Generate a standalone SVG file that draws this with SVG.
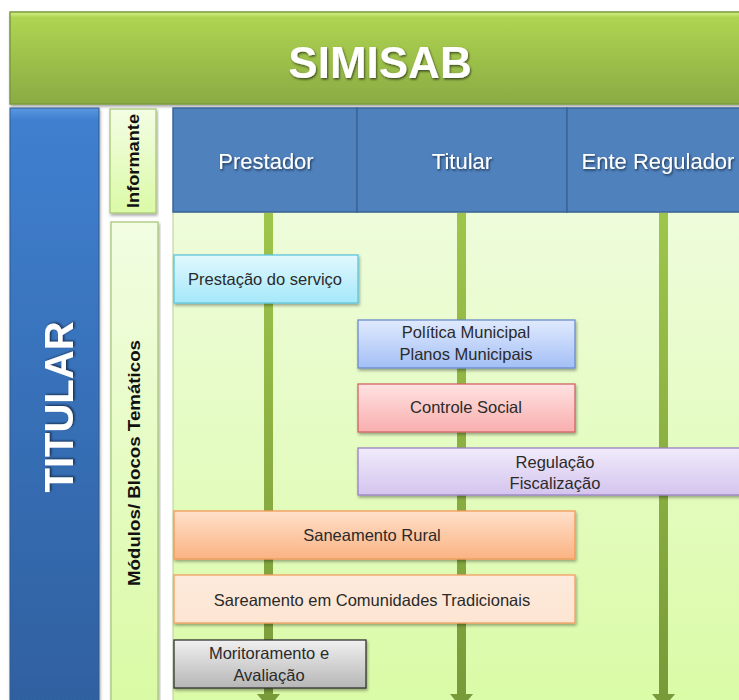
<svg xmlns="http://www.w3.org/2000/svg" width="739" height="700" viewBox="0 0 739 700">
<defs>
<linearGradient id="gHead" x1="0" y1="0" x2="0" y2="1"><stop offset="0" stop-color="#d6f08a"/><stop offset="0.06" stop-color="#afd452"/><stop offset="1" stop-color="#8aab43"/></linearGradient>
<linearGradient id="gTit" x1="0" y1="0" x2="0" y2="1"><stop offset="0" stop-color="#5a98e0"/><stop offset="0.02" stop-color="#3f7fcf"/><stop offset="1" stop-color="#2f609f"/></linearGradient>
<linearGradient id="gInf" x1="0" y1="0" x2="0" y2="1"><stop offset="0" stop-color="#f3fde4"/><stop offset="1" stop-color="#dbfaa6"/></linearGradient>
<linearGradient id="gMod" x1="0" y1="0" x2="0" y2="1"><stop offset="0" stop-color="#f2fde2"/><stop offset="1" stop-color="#d9faa3"/></linearGradient>
<linearGradient id="gBody" x1="0" y1="0" x2="0" y2="1"><stop offset="0" stop-color="#eefcdb"/><stop offset="1" stop-color="#dafba6"/></linearGradient>
<linearGradient id="gLine" x1="0" y1="0" x2="0" y2="1"><stop offset="0" stop-color="#9ec54b"/><stop offset="1" stop-color="#789a39"/></linearGradient>
<linearGradient id="gCyan" x1="0" y1="0" x2="0" y2="1"><stop offset="0" stop-color="#e2f8fd"/><stop offset="1" stop-color="#a4e8fa"/></linearGradient>
<linearGradient id="gBlue" x1="0" y1="0" x2="0" y2="1"><stop offset="0" stop-color="#e0eafd"/><stop offset="1" stop-color="#a3bff6"/></linearGradient>
<linearGradient id="gPink" x1="0" y1="0" x2="0" y2="1"><stop offset="0" stop-color="#ffe2e2"/><stop offset="1" stop-color="#f9aeae"/></linearGradient>
<linearGradient id="gPurp" x1="0" y1="0" x2="0" y2="1"><stop offset="0" stop-color="#f1ebfb"/><stop offset="1" stop-color="#d4c4ee"/></linearGradient>
<linearGradient id="gOrg" x1="0" y1="0" x2="0" y2="1"><stop offset="0" stop-color="#ffe0cb"/><stop offset="1" stop-color="#fab383"/></linearGradient>
<linearGradient id="gPeach" x1="0" y1="0" x2="0" y2="1"><stop offset="0" stop-color="#fdeadc"/><stop offset="1" stop-color="#fde5d3"/></linearGradient>
<linearGradient id="gGray" x1="0" y1="0" x2="0" y2="1"><stop offset="0" stop-color="#f0f0f0"/><stop offset="1" stop-color="#b6b6b6"/></linearGradient>
<filter id="sh" x="-5%" y="-10%" width="110%" height="125%"><feDropShadow dx="1" dy="2" stdDeviation="1.5" flood-color="#000" flood-opacity="0.35"/></filter>
<filter id="tsh" x="-10%" y="-20%" width="120%" height="150%"><feDropShadow dx="1" dy="1.5" stdDeviation="1" flood-color="#000" flood-opacity="0.6"/></filter>
</defs>
<style>
.t{font-family:"Liberation Sans","DejaVu Sans",sans-serif;fill:#2a2a2a;font-size:16.5px;text-anchor:middle}
.w{font-family:"Liberation Sans","DejaVu Sans",sans-serif;fill:#ffffff;text-anchor:middle}
.b{font-family:"Liberation Sans","DejaVu Sans",sans-serif;fill:#111;font-weight:bold;text-anchor:middle}
.box{stroke-width:1.3}
</style>
<rect width="739" height="700" fill="#ffffff"/>

<g id="simisab">
<rect x="10" y="12" width="740" height="92" fill="url(#gHead)" stroke="#7a9a3c" stroke-width="1.5" filter="url(#sh)"/>
<text class="w" x="380" y="78" font-size="44" font-weight="bold" filter="url(#tsh)">SIMISAB</text>
</g>

<g id="titular-bar">
<rect x="10" y="108" width="89" height="600" fill="url(#gTit)" stroke="#2c5a92" stroke-width="1" filter="url(#sh)"/>
<text class="w" transform="translate(73,407) rotate(-90)" font-size="40" font-weight="bold" filter="url(#tsh)">TITULAR</text>
</g>

<g id="informante">
<rect x="110" y="109" width="46" height="104" fill="url(#gInf)" stroke="#a8c878" stroke-width="1.3" filter="url(#sh)"/>
<text class="b" transform="translate(139,161) rotate(-90)" font-size="16" textLength="94" lengthAdjust="spacingAndGlyphs">Informante</text>
</g>

<g id="modulos">
<rect x="111" y="222" width="47" height="490" fill="url(#gMod)" stroke="#a8c878" stroke-width="1.3" filter="url(#sh)"/>
<text class="b" transform="translate(140,463) rotate(-90)" font-size="16" textLength="246" lengthAdjust="spacingAndGlyphs">Módulos/ Blocos Temáticos</text>
</g>

<g id="body">
<rect x="173" y="212" width="570" height="495" fill="url(#gBody)" stroke="#b8d090" stroke-width="1"/>
</g>

<g id="header-cols">
<rect x="173" y="108" width="184" height="104" fill="#4f81bd" stroke="#3b6597" stroke-width="1.5"/>
<rect x="357" y="108" width="210" height="104" fill="#4f81bd" stroke="#3b6597" stroke-width="1.5"/>
<rect x="567" y="108" width="180" height="104" fill="#4f81bd" stroke="#3b6597" stroke-width="1.5"/>
<text class="w" x="266" y="169" font-size="22" filter="url(#tsh)">Prestador</text>
<text class="w" x="462" y="169" font-size="22" filter="url(#tsh)">Titular</text>
<text class="w" x="658" y="169" font-size="22" filter="url(#tsh)">Ente Regulador</text>
</g>

<g id="connectors">
<rect x="264" y="213" width="9" height="484" fill="url(#gLine)"/>
<polygon points="257,694 280,694 268.5,708" fill="#789a39"/>
<rect x="457" y="213" width="9" height="484" fill="url(#gLine)"/>
<polygon points="450,694 473,694 461.5,708" fill="#789a39"/>
<rect x="659" y="213" width="9" height="484" fill="url(#gLine)"/>
<polygon points="652,694 675,694 663.5,708" fill="#789a39"/>
</g>

<g id="prestacao">
<rect class="box" x="174" y="255" width="184" height="48" fill="url(#gCyan)" stroke="#5cc6df" filter="url(#sh)"/>
<text class="t" x="265" y="285">Prestação do serviço</text>
</g>

<g id="politica">
<rect class="box" x="358" y="320" width="217" height="48" fill="url(#gBlue)" stroke="#6a8ccc" filter="url(#sh)"/>
<text class="t" x="466" y="338">Política Municipal</text>
<text class="t" x="466" y="360">Planos Municipais</text>
</g>

<g id="controle">
<rect class="box" x="358" y="384" width="217" height="48" fill="url(#gPink)" stroke="#d06565" filter="url(#sh)"/>
<text class="t" x="466" y="413">Controle Social</text>
</g>

<g id="regulacao">
<rect class="box" x="358" y="448" width="390" height="47" fill="url(#gPurp)" stroke="#9a80c6" filter="url(#sh)"/>
<text class="t" x="555" y="468">Regulação</text>
<text class="t" x="555" y="489">Fiscalização</text>
</g>

<g id="saneamento-rural">
<rect class="box" x="174" y="511" width="401" height="48" fill="url(#gOrg)" stroke="#f39a58" filter="url(#sh)"/>
<text class="t" x="372" y="541">Saneamento Rural</text>
</g>

<g id="comunidades">
<rect class="box" x="174" y="575" width="401" height="48" fill="url(#gPeach)" stroke="#f4a062" filter="url(#sh)"/>
<text class="t" x="372" y="606">Sareamento em Comunidades Tradicionais</text>
</g>

<g id="monitoramento">
<rect class="box" x="174" y="640" width="192" height="48" fill="url(#gGray)" stroke="#333333" filter="url(#sh)"/>
<text class="t" x="269" y="659">Moritoramento e</text>
<text class="t" x="269" y="681">Avaliação</text>
</g>
</svg>
